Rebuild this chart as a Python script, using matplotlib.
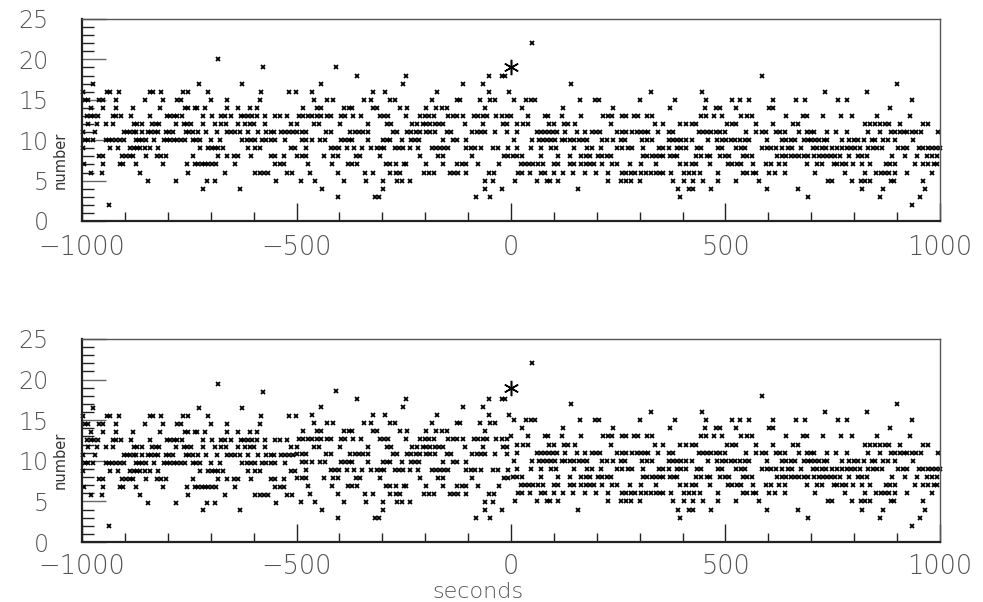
import matplotlib
matplotlib.use('Agg')
import matplotlib.pyplot as plt
from matplotlib.ticker import MultipleLocator

# times (s) of the bins, grouped by the count
t_c22 = [48]
t_c20 = [-683]
t_c19 = [-578, -407]
t_c18 = [-358, -245, -51, -22, -14, 584]
t_c17 = [-974, -727, -627, -442, -251, -113, -65, 140, 899]
t_c16 = [-997, -941, -934, -913, -842, -834, -815, -764, -754, -706, -583, -518, -502, -465,
         -321, -294, -172, -51, -4, 326, 446, 732, 829]
t_c15 = [-993, -986, -960, -952, -921, -853, -811, -778, -769, -700, -663, -585, -459, -428,
         -414, -342, -327, -281, -271, -185, -127, -119, -73, -48, -38, 7, 34, 46, 57, 161,
         195, 205, 300, 382, 454, 514, 533, 555, 611, 664, 685, 763, 784, 934]
t_c14 = [-978, -951, -920, -881, -819, -760, -752, -737, -731, -714, -663, -636, -609, -593,
         -484, -453, -443, -389, -378, -370, -321, -313, -258, -242, -197, -174, -162, -150,
         -61, 25, 122, 238, 370, 452, 478, 487, 524, 602, 611, 884]
t_c13 = [-988, -980, -972, -962, -927, -920, -910, -885, -842, -801, -794, -786, -778, -768,
         -718, -698, -677, -667, -653, -630, -622, -613, -603, -593, -574, -549, -539, -523,
         -495, -484, -474, -463, -453, -442, -430, -420, -397, -386, -368, -350, -306, -296,
         -286, -245, -211, -201, -191, -180, -146, -136, -125, -111, -87, -76, -65, -56, -34,
         -22, -10, 1, 40, 79, 87, 118, 164, 215, 227, 236, 258, 269, 287, 295, 316, 328, 444,
         454, 473, 493, 537, 551, 561, 642, 680, 689, 728, 769, 794, 854, 930]
t_c12 = [-986, -966, -943, -927, -879, -871, -861, -836, -828, -820, -780, -763, -755, -745,
         -718, -690, -677, -665, -636, -619, -609, -599, -574, -512, -500, -459, -448, -399,
         -333, -289, -279, -230, -219, -206, -197, -188, -177, -167, -158, -108, -65, -18, -9,
         13, 28, 40, 88, 101, 124, 133, 149, 234, 335, 355, 395, 408, 421, 431, 504, 514, 524,
         572, 611, 658, 669, 826, 837, 849, 860, 872, 882, 906, 960, 971]
t_c11 = [-997, -970, -902, -895, -887, -879, -873, -861, -846, -838, -830, -822, -805, -797,
         -787, -758, -750, -741, -729, -710, -686, -663, -653, -644, -632, -614, -589, -570,
         -560, -552, -536, -527, -518, -508, -498, -488, -477, -432, -420, -376, -364, -355,
         -345, -334, -276, -265, -242, -232, -222, -212, -198, -188, -177, -149, -139, -90,
         -80, -71, -61, -38, -10, 13, 60, 70, 79, 88, 98, 108, 126, 153, 172, 188, 197, 207,
         248, 258, 269, 281, 293, 304, 312, 320, 343, 369, 377, 439, 448, 457, 467, 478, 487,
         499, 547, 572, 584, 594, 617, 628, 638, 672, 689, 699, 707, 736, 758, 783, 833, 859,
         885, 895, 906, 915, 924, 934, 944, 955, 996]
t_c10 = [-993, -986, -975, -944, -937, -929, -921, -912, -902, -874, -867, -859, -850, -832,
         -809, -801, -794, -786, -778, -770, -760, -742, -735, -725, -700, -679, -627, -616,
         -606, -596, -580, -570, -560, -550, -527, -487, -477, -465, -446, -434, -397, -387,
         -378, -370, -333, -298, -289, -281, -255, -234, -224, -214, -158, -136, -127, -104,
         7, 48, 65, 75, 85, 94, 102, 118, 127, 137, 147, 158, 168, 178, 213, 223, 238, 256,
         265, 306, 316, 328, 369, 378, 387, 397, 409, 421, 460, 481, 491, 501, 512, 522, 533,
         545, 555, 596, 631, 641, 652, 662, 683, 693, 699, 709, 719, 730, 736, 771, 789, 800,
         810, 822, 841, 849, 868, 878, 895, 938]
t_c9 = [-997, -935, -916, -888, -879, -871, -864, -853, -842, -822, -725, -706, -698, -690,
        -683, -672, -614, -596, -585, -513, -504, -477, -420, -411, -401, -383, -365, -348,
        -327, -313, -304, -296, -271, -261, -251, -236, -216, -185, -175, -166, -157, -146,
        -104, -94, -84, -69, -42, -30, -7, 13, 46, 70, 93, 104, 147, 178, 189, 209, 246, 258,
        273, 283, 308, 345, 355, 369, 387, 397, 408, 434, 444, 483, 493, 524, 535, 545, 586,
        596, 607, 617, 631, 646, 656, 677, 705, 714, 724, 735, 748, 759, 771, 783, 792, 802,
        814, 833, 843, 854, 864, 903, 913, 923, 950, 960, 971, 981, 991, 999]
t_c8 = [-960, -951, -906, -898, -888, -882, -850, -825, -815, -805, -741, -683, -662, -645,
        -636, -605, -560, -549, -529, -498, -488, -477, -435, -414, -403, -362, -352, -306,
        -212, -170, -158, -92, -17, -7, 4, 13, 26, 71, 110, 137, 163, 174, 184, 203, 213, 223,
        233, 308, 318, 328, 337, 347, 355, 370, 380, 387, 432, 442, 456, 464, 488, 499, 509,
        541, 551, 561, 620, 631, 641, 652, 662, 672, 683, 693, 707, 717, 727, 736, 745, 756,
        766, 787, 808, 818, 829, 888, 919, 947, 969, 981, 993]
t_c7 = [-996, -952, -912, -904, -874, -812, -755, -737, -729, -721, -714, -706, -698, -688,
        -644, -549, -539, -529, -473, -418, -379, -370, -360, -292, -281, -268, -250, -244,
        -197, -158, -127, -115, -104, -76, -28, 23, 32, 42, 52, 62, 75, 101, 110, 137, 147,
        163, 174, 184, 194, 211, 236, 246, 277, 304, 339, 395, 408, 421, 431, 464, 506, 516,
        527, 537, 565, 594, 605, 625, 638, 689, 714, 724, 752, 761, 771, 781, 798, 818, 837,
        874, 884, 895, 942, 961, 973, 985, 994]
t_c6 = [-978, -954, -865, -752, -667, -596, -585, -575, -566, -521, -510, -469, -404, -341,
        -321, -281, -268, -259, -203, -191, -180, -143, -133, -123, -104, -51, -40, 17, 25,
        44, 70, 80, 101, 122, 145, 172, 199, 227, 259, 269, 279, 290, 303, 314, 326, 337, 347,
        355, 374, 403, 415, 426, 440, 483, 540, 551, 563, 572, 602, 615, 638, 709, 779, 826,
        851, 862, 872, 882, 895, 923, 981]
t_c5 = [-846, -780, -708, -690, -547, -490, -456, -389, -337, -298, -265, -255, -236, -61,
        -42, 9, 60, 83, 91, 110, 227, 256, 267, 279, 300, 378, 403, 425, 448, 483, 524, 579,
        740, 748, 794, 815, 826, 836, 885, 892, 961]
t_c4 = [-719, -632, -440, -299, -61, -22, 157, 390, 415, 425, 467, 596, 669, 818, 868, 965]
t_c3 = [-403, -317, -307, -82, -48, 394, 693, 860, 954]
t_c2 = [-937, 934]

# trigger bin, drawn with a bigger star
trig_t = [0]
trig_c = [19]

# correction (factor applied from each start time on)
corr_start = [-1000, -500, 0, 500]
corr_factor = [0.97, 0.98, 1.0, 1.0]

rows = {22: t_c22, 20: t_c20, 19: t_c19, 18: t_c18, 17: t_c17, 16: t_c16, 15: t_c15,
        14: t_c14, 13: t_c13, 12: t_c12, 11: t_c11, 10: t_c10, 9: t_c9, 8: t_c8, 7: t_c7,
        6: t_c6, 5: t_c5, 4: t_c4, 3: t_c3, 2: t_c2}

times = []
counts = []
for c, ts in rows.items():
    for t in ts:
        times.append(t)
        counts.append(c)


def factor_at(t):
    f = corr_factor[0]
    for s, k in zip(corr_start, corr_factor):
        if t >= s:
            f = k
    return f


corrected = [c * factor_at(t) for t, c in zip(times, counts)]
trig_corr = [c * factor_at(t) for t, c in zip(trig_t, trig_c)]

plt.rcParams['font.family'] = ['DejaVu Sans']
TXT = '#555555'

W, H = 983, 602
fig = plt.figure(figsize=(W / 100, H / 100), dpi=100)
ax1 = fig.add_axes([82 / W, 1 - 221 / H, 858 / W, 202 / H])
ax2 = fig.add_axes([82 / W, 1 - 542 / H, 858 / W, 203 / H])


def style(ax, ylab_pos, xpad):
    ax.set_xlim(-1000, 1000)
    ax.set_ylim(0, 25)
    ax.xaxis.set_major_locator(MultipleLocator(500))
    ax.xaxis.set_minor_locator(MultipleLocator(100))
    ax.yaxis.set_major_locator(MultipleLocator(5))
    ax.yaxis.set_minor_locator(MultipleLocator(1))
    ax.tick_params(axis='x', which='major', direction='in', length=13, width=1.0,
                   color='#222222', labelsize=18.5, labelcolor=TXT, pad=xpad)
    ax.tick_params(axis='x', which='minor', direction='in', length=6.5, width=1.0,
                   color='#222222')
    ax.tick_params(axis='y', which='major', direction='in', length=17, width=1.0,
                   color='#666666', labelsize=17, labelcolor=TXT, pad=24)
    ax.tick_params(axis='y', which='minor', direction='in', length=8.5, width=1.0,
                   color='#222222')
    ax.tick_params(top=False, right=False)
    for lab in ax.get_xticklabels() + ax.get_yticklabels():
        lab.set_fontweight('light')
    for side in ['left', 'bottom']:
        ax.spines[side].set_linewidth(1.6)
        ax.spines[side].set_color('#222222')
    for side in ['top', 'right']:
        ax.spines[side].set_linewidth(1.0)
        ax.spines[side].set_color('#555555')
    ax.set_ylabel('number', fontsize=10.5, color='#333333')
    ax.yaxis.set_label_coords(-0.017, ylab_pos)


for ax, ys, ty, yl, xp in [(ax1, counts, trig_c, 0.3, 10), (ax2, corrected, trig_corr, 0.4, 8.5)]:
    ax.plot(times, ys, linestyle='none', marker='x', markersize=3.0,
            markeredgewidth=1.3, color='black', clip_on=False)
    ax.plot(trig_t, ty, linestyle='none', marker=(6, 2, 0), markersize=11,
            markeredgewidth=1.1, color='black')
    style(ax, yl, xp)

fig.text(478 / W, 1 - 592 / H, 'seconds', fontsize=16, color=TXT,
         ha='center', va='center', fontweight='light')

fig.savefig('out.png', dpi=100)
